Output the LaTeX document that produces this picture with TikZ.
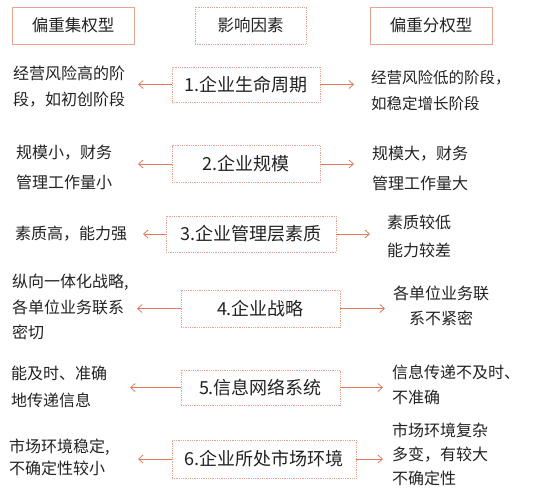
\documentclass[tikz,border=0pt]{standalone}
\usepackage{fontspec}
\setmainfont{Noto Sans CJK SC}
\usetikzlibrary{arrows.meta, positioning}
\definecolor{framecol}{HTML}{E8A493}
\definecolor{arrowcol}{HTML}{E07A5F}
\definecolor{textcol}{HTML}{222222}
\tikzset{
  hnode/.style={rectangle, draw=framecol, line width=0.8pt, minimum width=122pt, minimum height=37pt, font=\fontsize{16.5}{16.5}\selectfont, text=textcol, inner sep=0pt},
  mnode/.style={rectangle, draw=framecol, line width=0.8pt, densely dotted, minimum height=36pt, font=\fontsize{18}{18}\selectfont, text=textcol, inner sep=0pt},
  lnode/.style={anchor=west, align=left, font=\fontsize{16}{26}\selectfont, text=textcol, inner sep=0pt},
  rnode/.style={anchor=west, align=left, font=\fontsize{16}{26}\selectfont, text=textcol, inner sep=0pt},
  arr/.style={->, draw=arrowcol, line width=0.8pt},
}

\begin{document}
\begin{tikzpicture}[x=1pt, y=-1pt, >={Straight Barb[length=4.5pt, width=8pt]}]
  \useasboundingbox (0,0) rectangle (536,498);
  % ── column headers ───────────────────────────────────────────────
  \node[hnode] (Hc) at ( 73.0, 25.5) {偏重集权型};
  \node[hnode, densely dotted, minimum width=111pt] (Hf) at (250.5, 25.5) {影响因素};
  \node[hnode] (Hd) at (431.0, 25.5) {偏重分权型};
  % ── factor boxes (middle column) ─────────────────────────────────
  \node[mnode, minimum width=148pt, minimum height=35pt] (F1) at (246.0, 84.5) {1.企业生命周期};
  \node[mnode, minimum width=148pt, minimum height=37pt] (F2) at (246.0,164.0) {2.企业规模};
  \node[mnode, minimum width=170pt] (F3) at (251.0,234.0) {3.企业管理层素质};
  \node[mnode, minimum width=159pt, minimum height=37pt] (F4) at (260.5,308.5) {4.企业战略};
  \node[mnode, minimum width=159pt, minimum height=35pt] (F5) at (260.5,387.5) {5.信息网络系统};
  \node[mnode, minimum width=184pt, minimum height=38pt] (F6) at (264.0,459.0) {6.企业所处市场环境};
  % ── centralised side (left) ──────────────────────────────────────
  \node[lnode] (L1) at (13, 87) {经营风险高的阶\\段，如初创阶段};
  \node[lnode, font=\fontsize{16}{30}\selectfont] (L2) at (16,167) {规模小，财务\\管理工作量小};
  \node[lnode] (L3) at (15,234) {素质高，能力强};
  \node[lnode, font=\fontsize{16}{25.5}\selectfont] (L4) at (12,307) {纵向一体化战略,\\各单位业务联系\\密切};
  \node[lnode, font=\fontsize{16}{27}\selectfont] (L5) at (11,387) {能及时、准确\\地传递信息};
  \node[lnode, font=\fontsize{16}{22}\selectfont] (L6) at ( 9,457) {市场环境稳定,\\不确定性较小};
  % ── decentralised side (right) ───────────────────────────────────
  \node[rnode, font=\fontsize{15.5}{26}\selectfont] (R1) at (371, 91) {经营风险低的阶段，\\如稳定增长阶段};
  \node[rnode, font=\fontsize{16}{30}\selectfont] (R2) at (372,168) {规模大，财务\\管理工作量大};
  \node[rnode, font=\fontsize{16}{28}\selectfont] (R3) at (387,236) {素质较低\\能力较差};
  \node[rnode, anchor=center, align=center, font=\fontsize{16}{25}\selectfont] (R4) at (441,306) {各单位业务联\\系不紧密};
  \node[rnode, font=\fontsize{16}{25}\selectfont] (R5) at (392,385) {信息传递不及时、\\不准确};
  \node[rnode, font=\fontsize{16}{24}\selectfont] (R6) at (392,454) {市场环境复杂\\多变，有较大\\不确定性};
  % ── arrow end points ─────────────────────────────────────────────
  \coordinate (a1l) at (138, 84.5); \coordinate (a1r) at (354, 84.5);
  \coordinate (a2l) at (138,164.0); \coordinate (a2r) at (354,164.0);
  \coordinate (a3l) at (143,234.0); \coordinate (a3r) at (370,234.0);
  \coordinate (a4l) at (137,308.5); \coordinate (a4r) at (385,308.5);
  \coordinate (a5l) at (130,387.5); \coordinate (a5r) at (383,387.5);
  \coordinate (a6l) at (138,459.0); \coordinate (a6r) at (383,459.0);
  % ── arrows out of each factor ────────────────────────────────────
  \foreach \i in {1,...,6}{
    \draw[arr] (F\i.west) -- (a\i l);
    \draw[arr] (F\i.east) -- (a\i r);
  }
\end{tikzpicture}
\end{document}
